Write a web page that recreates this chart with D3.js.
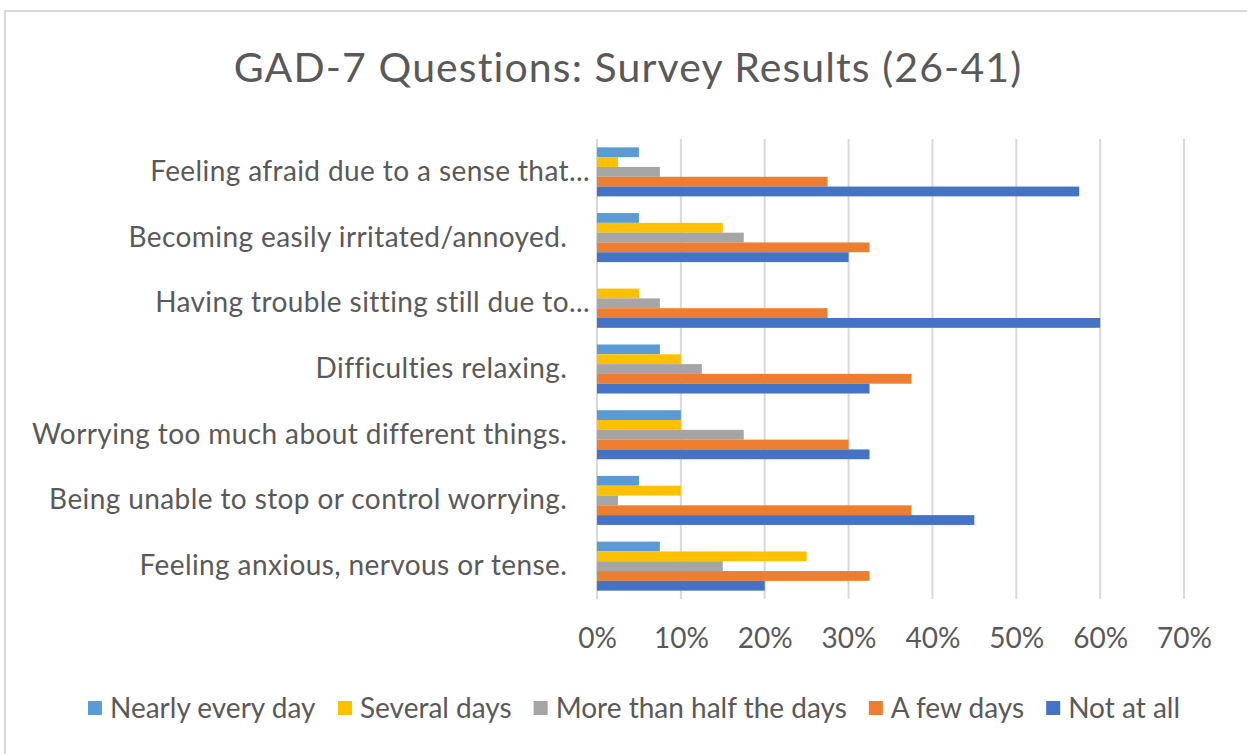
<!DOCTYPE html>
<html>
<head>
<meta charset="utf-8">
<script src="https://cdn.jsdelivr.net/npm/d3@7"></script>
<style>
  html, body { margin: 0; padding: 0; background: #ffffff; }
  svg { display: block; font-family: Lato, "Open Sans", sans-serif; }
  .cat { white-space: pre; }
</style>
</head>
<body>
<svg id="chart" width="1247" height="754"></svg>
<script>
// GAD-7 questions (top to bottom as listed on the axis)
const questions = [
  "Feeling afraid due to a sense that...",
  "Becoming easily irritated/annoyed.   ",
  "Having trouble sitting still due to...",
  "Difficulties relaxing.   ",
  "Worrying too much about different things.   ",
  "Being unable to stop or control worrying.   ",
  "Feeling anxious, nervous or tense.   "
];

// Answer categories, in order inside each group
const responses = ["Nearly every day", "Several days", "More than half the days", "A few days", "Not at all"];

// Share of respondents per answer (fractions), one value per question
const nearlyEveryDay = [0.05, 0.05, 0.00, 0.075, 0.10, 0.05, 0.075];
const severalDays    = [0.025, 0.15, 0.05, 0.10, 0.10, 0.10, 0.25];
const moreThanHalf   = [0.075, 0.175, 0.075, 0.125, 0.175, 0.025, 0.15];
const aFewDays       = [0.275, 0.325, 0.275, 0.375, 0.30, 0.375, 0.325];
const notAtAll       = [0.575, 0.30, 0.60, 0.325, 0.325, 0.45, 0.20];

const xTicks = [0, 0.1, 0.2, 0.3, 0.4, 0.5, 0.6, 0.7];
const colors = ["#5B9BD5", "#FFC000", "#A5A5A5", "#ED7D31", "#4472C4"];
const title = "GAD-7 Questions: Survey Results (26-41)";

const seriesValues = [nearlyEveryDay, severalDays, moreThanHalf, aFewDays, notAtAll];
const rows = questions.map((q, i) => ({
  question: q,
  values: responses.map((r, j) => ({ key: r, value: seriesValues[j][i] }))
}));

const svg = d3.select("#chart");
const textColor = "#595959";
const plot = { left: 597, right: 1184, top: 139, bottom: 599 };

// Chart frame
svg.append("rect")
  .attr("x", 5).attr("y", 11)
  .attr("width", 1400).attr("height", 900)
  .attr("fill", "#ffffff")
  .attr("stroke", "#d9d9d9").attr("stroke-width", 2);

// Title
svg.append("text")
  .attr("x", 628).attr("y", 82)
  .attr("text-anchor", "middle")
  .attr("fill", textColor).attr("font-size", 41)
  .attr("letter-spacing", 1.1)
  .text(title);

const x = d3.scaleLinear().domain([0, 0.7]).range([plot.left, plot.right]);
const y = d3.scaleBand().domain(questions).range([plot.top, plot.bottom])
  .paddingInner(0.254).paddingOuter(0.127);
const yInner = d3.scaleBand().domain(responses).range([0, y.bandwidth()]);

// Vertical gridlines
svg.append("g").selectAll("line").data(xTicks).join("line")
  .attr("x1", d => x(d)).attr("x2", d => x(d))
  .attr("y1", plot.top).attr("y2", plot.bottom)
  .attr("stroke", "#d9d9d9").attr("stroke-width", 2);

// Bars
const groups = svg.append("g").selectAll("g").data(rows).join("g")
  .attr("transform", d => `translate(0,${y(d.question)})`);
groups.selectAll("rect").data(d => d.values).join("rect")
  .attr("x", x(0))
  .attr("y", d => yInner(d.key))
  .attr("width", d => x(d.value) - x(0))
  .attr("height", yInner.bandwidth())
  .attr("fill", (d, i) => colors[i]);

// Category labels
const yAxis = d3.axisLeft(y).tickSize(0).tickPadding(7);
const gy = svg.append("g").attr("transform", `translate(${plot.left},0)`).call(yAxis);
gy.select(".domain").remove();
gy.selectAll("text")
  .attr("class", "cat")
  .attr("fill", textColor).attr("font-size", 28)
  .attr("letter-spacing", 0.4)
  .attr("font-family", "Lato, 'Open Sans', sans-serif");

// Percentage axis labels
const xAxis = d3.axisBottom(x).tickValues(xTicks).tickFormat(d3.format(".0%")).tickSize(0).tickPadding(0);
const gx = svg.append("g").attr("transform", `translate(0,638)`).call(xAxis);
gx.select(".domain").remove();
gx.selectAll("text")
  .attr("dy", "0.35em")
  .attr("fill", textColor).attr("font-size", 28)
  .attr("font-family", "Lato, 'Open Sans', sans-serif");

// Legend
const legend = svg.append("g");
const swatch = 14, swGap = 8, itemGap = 22, legendY = 708;
const items = legend.selectAll("g").data(responses).join("g");
items.append("rect")
  .attr("width", swatch).attr("height", swatch)
  .attr("y", legendY - swatch / 2)
  .attr("fill", (d, i) => colors[i]);
items.append("text")
  .attr("x", swatch + swGap).attr("y", legendY)
  .attr("dy", "0.35em")
  .attr("fill", textColor).attr("font-size", 28)
  .text(d => d);
let cursor = 0;
items.each(function () {
  const w = this.getBBox().width;
  this.__x = cursor;
  cursor += w + itemGap;
});
const totalW = cursor - itemGap;
const legendStart = 634 - totalW / 2;
items.attr("transform", function () { return `translate(${legendStart + this.__x},0)`; });
</script>
</body>
</html>
